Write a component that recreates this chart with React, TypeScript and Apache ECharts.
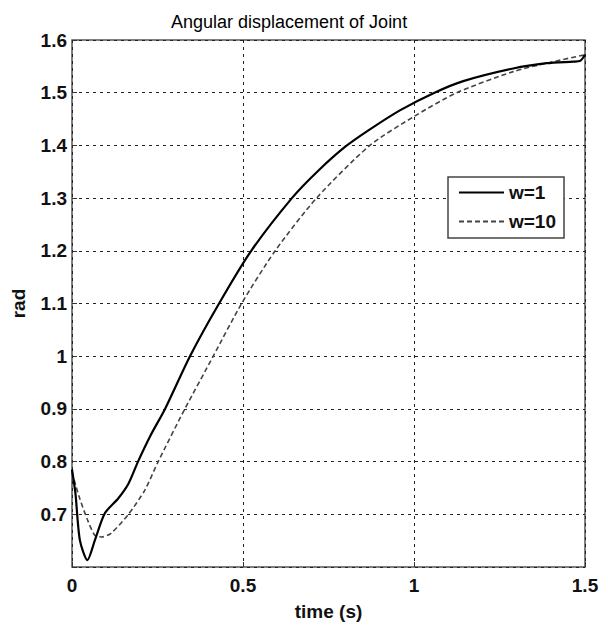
import React, { useEffect, useRef } from "react";
import * as echarts from "echarts";

const titleText = "Angular displacement of Joint";
const xName = "time (s)";
const yName = "rad";
const seriesNames = ["w=1", "w=10"];

const timeW1 = [0, 0.01, 0.023, 0.045, 0.067, 0.096, 0.135, 0.165, 0.193, 0.23, 0.272, 0.345, 0.43, 0.524, 0.643, 0.72, 0.8, 0.87, 0.96, 1.06, 1.144, 1.29, 1.388, 1.466, 1.485, 1.5];
const valW1 = [0.785, 0.74, 0.651, 0.613, 0.651, 0.702, 0.73, 0.758, 0.8, 0.85, 0.9, 1.0, 1.1, 1.2, 1.3, 1.352, 1.398, 1.43, 1.467, 1.5, 1.522, 1.546, 1.556, 1.559, 1.56, 1.572];

const timeW10 = [0, 0.02, 0.045, 0.067, 0.087, 0.114, 0.165, 0.213, 0.252, 0.33, 0.413, 0.496, 0.594, 0.715, 0.871, 0.998, 1.125, 1.29, 1.388, 1.5];
const valW10 = [0.78, 0.735, 0.69, 0.66, 0.657, 0.664, 0.7, 0.746, 0.8, 0.9, 1.0, 1.1, 1.2, 1.3, 1.4, 1.454, 1.5, 1.54, 1.556, 1.572];

const FONT = "'Liberation Sans', Arial, sans-serif";

export default function App() {
  const ref = useRef<HTMLDivElement>(null);
  useEffect(() => {
    if (!ref.current) return;
    const chart = echarts.init(ref.current, null, { renderer: "svg" });
    const pair = (ts: number[], vs: number[]) => ts.map((t, i) => [t, vs[i]]);
    chart.setOption({
      animation: false,
      backgroundColor: "#ffffff",
      textStyle: { fontFamily: FONT },
      title: {
        text: titleText,
        left: 166,
        top: 8,
        textStyle: { fontFamily: FONT, fontSize: 18, fontWeight: "normal", color: "#000" },
      },
      grid: {
        left: 72,
        right: 23,
        top: 40,
        bottom: 59,
        show: true,
        borderColor: "#555",
        borderWidth: 1.5,
        backgroundColor: "transparent",
      },
      legend: {
        orient: "vertical",
        left: 448,
        top: 177,
        padding: [5, 8, 6, 10],
        itemWidth: 45,
        itemHeight: 14,
        itemGap: 8,
        borderColor: "#444",
        borderWidth: 1.5,
        backgroundColor: "#fff",
        itemStyle: { opacity: 0 },
        textStyle: { fontFamily: FONT, fontSize: 19, fontWeight: "bold", color: "#111", lineHeight: 21 },
        data: seriesNames,
      },
      xAxis: {
        type: "value",
        min: 0,
        max: 1.5,
        interval: 0.5,
        name: xName,
        nameLocation: "middle",
        nameGap: 35,
        nameTextStyle: { fontFamily: FONT, fontSize: 19, fontWeight: "bold", color: "#111" },
        axisLine: { show: false },
        axisTick: { show: true, inside: true, length: 5, lineStyle: { color: "#333" } },
        axisLabel: {
          margin: 9,
          fontFamily: FONT,
          fontSize: 19,
          fontWeight: "bold",
          color: "#111",
          formatter: (v: number) => String(parseFloat(v.toFixed(1))),
        },
        splitLine: { show: true, lineStyle: { color: "#222", width: 1, type: [3, 4] } },
      },
      yAxis: {
        type: "value",
        min: 0.6,
        max: 1.6,
        interval: 0.1,
        name: yName,
        nameLocation: "middle",
        nameGap: 44,
        nameRotate: 90,
        nameTextStyle: { fontFamily: FONT, fontSize: 19, fontWeight: "bold", color: "#111" },
        axisLine: { show: false },
        axisTick: { show: true, inside: true, length: 5, lineStyle: { color: "#333" } },
        axisLabel: {
          margin: 5,
          fontFamily: FONT,
          fontSize: 19,
          fontWeight: "bold",
          color: "#111",
          formatter: (v: number) => (Math.abs(v - 0.6) < 1e-6 ? "" : String(parseFloat(v.toFixed(1)))),
        },
        splitLine: { show: true, lineStyle: { color: "#222", width: 1, type: [3, 4] } },
      },
      series: [
        {
          name: seriesNames[0],
          type: "line",
          data: pair(timeW1, valW1),
          showSymbol: false,
          symbol: "none",
          smooth: 0.25,
          lineStyle: { color: "#000", width: 2.2, type: "solid" },
          itemStyle: { color: "#000" },
          z: 3,
        },
        {
          name: seriesNames[1],
          type: "line",
          data: pair(timeW10, valW10),
          showSymbol: false,
          symbol: "none",
          smooth: 0.25,
          lineStyle: { color: "#444", width: 1.6, type: [5, 3] },
          itemStyle: { color: "#444" },
          z: 2,
        },
      ],
    });
    return () => chart.dispose();
  }, []);
  return <div ref={ref} style={{ width: 608, height: 626, position: "absolute", left: 0, top: 0 }} />;
}
